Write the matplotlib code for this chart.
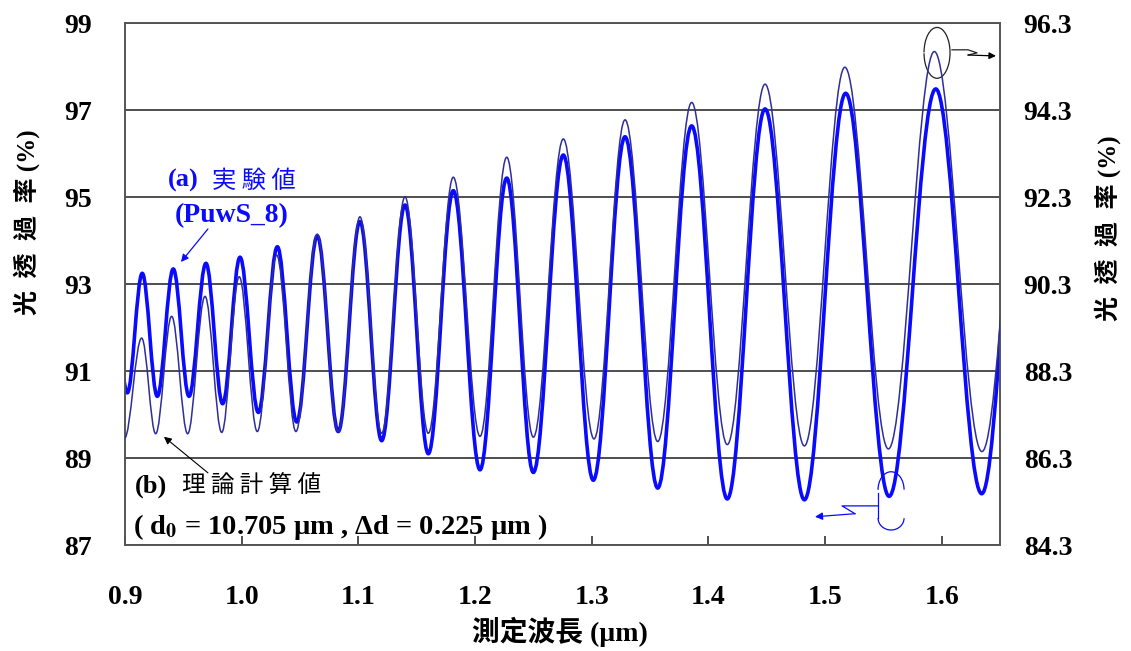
import matplotlib
matplotlib.use('Agg')
import matplotlib.pyplot as plt
from matplotlib.path import Path
from matplotlib.patches import PathPatch, Arc

plt.rcParams['mathtext.fontset'] = 'stix'
plt.rcParams['font.family'] = ['Liberation Serif', 'Noto Sans CJK JP']

# ---------------- data (extrema) ----------------
# (a) experimental curve, left axis (%)
exp_wavelength = [0.889, 0.9020, 0.9148, 0.9277, 0.9414, 0.9549, 0.9694, 0.9837,
                  0.9986, 1.0143, 1.0306, 1.0472, 1.0648, 1.0828, 1.1014, 1.1200,
                  1.1400, 1.1600, 1.1814, 1.2043, 1.2272, 1.2500, 1.2757, 1.3014,
                  1.3286, 1.3566, 1.3857, 1.4162, 1.4486, 1.4823, 1.5177, 1.5549,
                  1.5949, 1.6343, 1.6720]
exp_transmission = [93.20, 90.50, 93.25, 90.42, 93.35, 90.42, 93.48, 90.25,
                    93.62, 90.05, 93.86, 89.83, 94.11, 89.61, 94.44, 89.40,
                    94.82, 89.10, 95.15, 88.73, 95.44, 88.67, 95.97, 88.49,
                    96.39, 88.31, 96.64, 88.06, 97.03, 88.04, 97.39, 88.12,
                    97.49, 88.18, 97.70]

# (b) theoretical curve, right axis (%)
theory_wavelength = [0.887, 0.8995, 0.9143, 0.9263, 0.9400, 0.9537, 0.9686, 0.9829,
                     0.9979, 1.0134, 1.0300, 1.0465, 1.0648, 1.0828, 1.1014, 1.1200,
                     1.1400, 1.1600, 1.1814, 1.2043, 1.2272, 1.2500, 1.2757, 1.3020,
                     1.3286, 1.3566, 1.3857, 1.4162, 1.4486, 1.4823, 1.5170, 1.5543,
                     1.5937, 1.6345, 1.6760]
theory_transmission = [88.70, 86.75, 89.06, 86.86, 89.56, 86.86, 90.02, 86.89,
                       90.47, 86.91, 90.97, 86.91, 91.45, 86.90, 91.85, 86.87,
                       92.31, 86.87, 92.76, 86.80, 93.22, 86.78, 93.64, 86.74,
                       94.08, 86.68, 94.48, 86.61, 94.90, 86.58, 95.29, 86.51,
                       95.65, 86.45, 96.00]

x_ticks = [0.9, 1.0, 1.1, 1.2, 1.3, 1.4, 1.5, 1.6]
left_ticks = [87, 89, 91, 93, 95, 97, 99]
right_ticks = [84.3, 86.3, 88.3, 90.3, 92.3, 94.3, 96.3]
x_range = (0.9, 1.65)

# ---------------- helpers ----------------
def smooth_path(xs, ys, a=0.3642):
    """Cubic Bezier path through extrema with horizontal tangents."""
    verts = [(xs[0], ys[0])]
    codes = [Path.MOVETO]
    for i in range(1, len(xs)):
        dx = xs[i] - xs[i - 1]
        verts += [(xs[i - 1] + a * dx, ys[i - 1]),
                  (xs[i] - a * dx, ys[i]),
                  (xs[i], ys[i])]
        codes += [Path.CURVE4] * 3
    return Path(verts, codes)

BLUE = '#0a0aff'
NAVY = '#2e2e98'
LABEL_FAM = ['Liberation Serif', 'Noto Sans CJK TC']

fig = plt.figure(figsize=(11.31, 6.51), dpi=100)
ax = fig.add_axes([0.1105, 0.1628, 0.7737, 0.8014])
ax2 = ax.twinx()

# curves
p_exp = PathPatch(smooth_path(exp_wavelength, exp_transmission), fill=False,
                  edgecolor=BLUE, lw=2.6, joinstyle='round', zorder=3)
ax.add_patch(p_exp)
p_th = PathPatch(smooth_path(theory_wavelength, theory_transmission), fill=False,
                 edgecolor=NAVY, lw=1.1, joinstyle='round', zorder=3)
ax2.add_patch(p_th)

# grid
ax.set_axisbelow(True)
ax.yaxis.grid(True, color='#1e1e1e', lw=1.1)

# ticks
ax.set_xticks(x_ticks)
ax.set_xticklabels([f'{v:.1f}' for v in x_ticks])
ax.set_yticks(left_ticks)
ax.set_yticklabels([f'{v:d}' for v in left_ticks])
ax2.set_yticks(right_ticks)
ax2.set_yticklabels([f'{v:.1f}' for v in right_ticks])
ax.tick_params(axis='x', direction='in', length=6.5, width=1.1, pad=29,
               top=False, labelsize=20, color='#222222')
ax.tick_params(axis='y', length=0, pad=24, labelsize=20)
ax2.tick_params(axis='y', length=0, pad=17, labelsize=20)
for lab in ax.get_xticklabels() + ax.get_yticklabels() + ax2.get_yticklabels():
    lab.set_fontweight('bold')
    lab.set_family('Liberation Serif')

for a_ in (ax, ax2):
    for s in a_.spines.values():
        s.set_color('#555555')
        s.set_linewidth(1.2)

# axis labels
ylab_text = '光  透  過  率 (%)'
ax.set_ylabel(ylab_text, family=LABEL_FAM, weight='bold', size=18)
ax.yaxis.set_label_coords(-0.112, 0.619)
ax.yaxis.label.set_va('center')
ax.yaxis.label.set_ha('center')
ax2.set_ylabel(ylab_text, family=LABEL_FAM, weight='bold', size=18, rotation=90)
ax2.yaxis.set_label_coords(1.1234, 0.6076)
ax2.yaxis.label.set_va('center')
ax2.yaxis.label.set_ha('center')
ax.set_xlabel('測定波長 (µm)', family=LABEL_FAM, weight='bold', size=20)
ax.xaxis.set_label_coords(0.497, -0.1668)
ax.xaxis.label.set_va('center')

# annotations (a)
ax.text(0.9369, 95.375, '(a)', color=BLUE, fontsize=19, weight='bold',
        family='Liberation Serif', ha='left', va='center')
ax.text(0.9746, 95.375, '実 験 値', color=BLUE, fontsize=17.5,
        family='Noto Sans CJK JP', ha='left', va='center')
ax.text(0.9429, 94.57, '(PuwS_8)', color=BLUE, fontsize=20, weight='bold',
        family='Liberation Serif', ha='left', va='center')
ax.annotate('', xy=(0.948, 93.51), xytext=(0.9711, 94.27),
            arrowprops=dict(arrowstyle='-|>', color=BLUE, lw=0.9,
                            mutation_scale=11, shrinkA=0, shrinkB=0))

# annotations (b)
ax.text(0.9086, 88.34, '(b)', color='black', fontsize=19, weight='bold',
        family='Liberation Serif', ha='left', va='center')
ax.text(0.9486, 88.34, '理 論 計 算 値', color='black', fontsize=17,
        family='Noto Sans CJK JP', ha='left', va='center')
ax.text(0.9069, 87.42, r'( d$_{\mathbf{0}}$ = 10.705 µm , Δd = 0.225 µm )',
        color='black', fontsize=20.5, weight='bold', family='Liberation Serif',
        ha='left', va='center')
ax.annotate('', xy=(0.9334, 89.49), xytext=(0.9711, 88.66),
            arrowprops=dict(arrowstyle='-|>', color='black', lw=0.8,
                            mutation_scale=11, shrinkA=0, shrinkB=0))

# circle marker pointing to right axis
ax.add_patch(Arc((1.596, 98.32), 0.0223, 1.17, theta1=-140, theta2=140,
                 color='#222222', lw=0.9, clip_on=False))
ax.plot([1.6088, 1.6226, 1.6303, 1.6226], [98.39, 98.39, 98.32, 98.27],
        color='#222222', lw=0.9)
ax.annotate('', xy=(1.6465, 98.25), xytext=(1.6226, 98.27),
            arrowprops=dict(arrowstyle='-|>', color='black', lw=0.9,
                            mutation_scale=10, shrinkA=0, shrinkB=0))

# bracket pointing to left axis
ax.add_patch(Arc((1.5566, 88.27), 0.0223, 0.83, theta1=15, theta2=190,
                 color=BLUE, lw=0.9))
ax.plot([1.5455, 1.5455], [88.20, 87.62], color=BLUE, lw=0.9)
ax.add_patch(Arc((1.5566, 87.62), 0.0223, 0.55, theta1=180, theta2=340,
                 color=BLUE, lw=0.9))
ax.plot([1.5455, 1.5146, 1.5257], [87.90, 87.90, 87.72], color=BLUE, lw=0.9)
ax.annotate('', xy=(1.4914, 87.65), xytext=(1.5257, 87.72),
            arrowprops=dict(arrowstyle='-|>', color=BLUE, lw=0.9,
                            mutation_scale=11, shrinkA=0, shrinkB=0))

ax.set_xlim(*x_range)
ax.set_ylim(left_ticks[0], left_ticks[-1])
ax2.set_ylim(right_ticks[0], right_ticks[-1])

fig.savefig('out.png', dpi=100)
